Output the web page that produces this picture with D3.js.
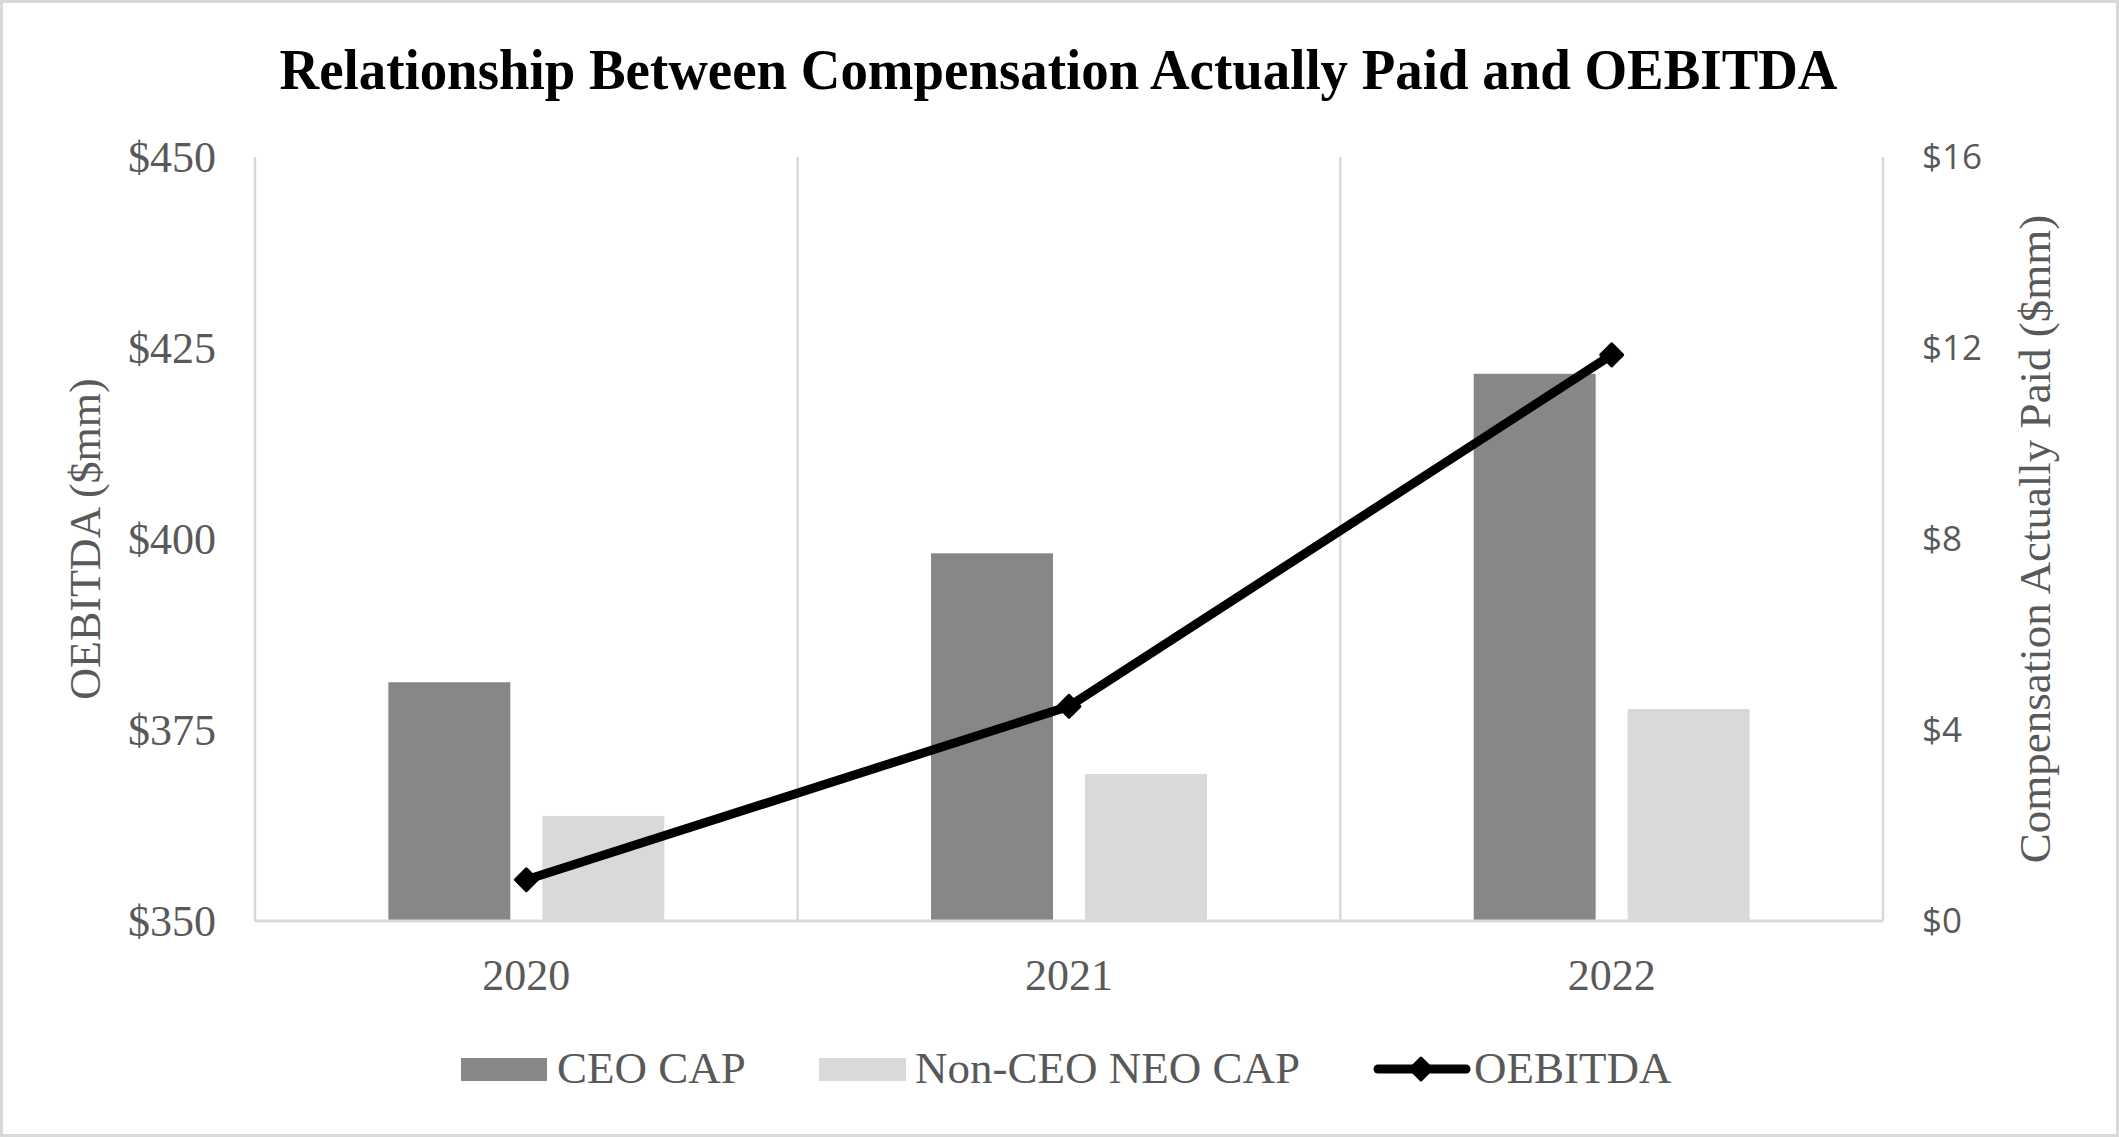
<!DOCTYPE html>
<html>
<head>
<meta charset="utf-8">
<script src="https://cdn.jsdelivr.net/npm/d3@7"></script>
<style>
  body { margin: 0; background: #fff; }
  svg text { font-family: "Liberation Serif", "Times New Roman", serif; }
</style>
</head>
<body>
<div id="chart"></div>
<script>
// chart values
const years = ["2020", "2021", "2022"];
const ceoCap = [5.0, 7.7, 11.46];        // $mm, right axis
const nonCeoCap = [2.2, 3.08, 4.44];     // $mm, right axis
const oebitda = [355.4, 378.1, 424.1];   // $mm, left axis
const leftTicks = [350, 375, 400, 425, 450];
const rightTicks = [0, 4, 8, 12, 16];
const legendLabels = ["CEO CAP", "Non-CEO NEO CAP", "OEBITDA"];

const W = 2119, H = 1137;
const margin = {top: 157, right: 236, bottom: 216, left: 255};
const plotW = W - margin.left - margin.right;
const plotH = H - margin.top - margin.bottom;
const gray = "#595959", grid = "#d9d9d9";

const svg = d3.select("#chart").append("svg")
    .attr("width", W)
    .attr("height", H);

// outer border
svg.append("rect")
    .attr("x", 1.5).attr("y", 1.5)
    .attr("width", W - 3).attr("height", H - 3)
    .attr("fill", "#fff")
    .attr("stroke", grid)
    .attr("stroke-width", 3);

// title (the original is a slightly condensed bold serif)
svg.append("text")
    .attr("x", W / 2 - 1)
    .attr("y", 89)
    .attr("text-anchor", "middle")
    .attr("font-size", 56)
    .attr("font-weight", "bold")
    .attr("fill", "#000")
    .attr("textLength", 1558)
    .attr("lengthAdjust", "spacingAndGlyphs")
    .text("Relationship Between Compensation Actually Paid and OEBITDA");

const g = svg.append("g")
    .attr("transform", `translate(${margin.left},${margin.top})`);

// scales
const x = d3.scaleBand().domain(years).range([0, plotW]).padding(0);
const xSub = d3.scaleBand().domain(["ceo", "non"]).range([0, x.bandwidth()])
    .paddingInner(0.208).paddingOuter(0.866);
const yLeft = d3.scaleLinear().domain([350, 450]).range([plotH, 0]);
const yRight = d3.scaleLinear().domain([0, 16]).range([plotH, 0]);

// vertical gridlines at category boundaries
const bounds = years.map(d => x(d)).concat([plotW]);
g.selectAll(".vgrid")
    .data(bounds)
    .enter().append("line")
    .attr("class", "vgrid")
    .attr("x1", d => d).attr("x2", d => d)
    .attr("y1", 0).attr("y2", plotH)
    .attr("stroke", grid)
    .attr("stroke-width", 2.5);

// bars
const barData = [];
years.forEach((yr, i) => {
    barData.push({year: yr, key: "ceo", value: ceoCap[i]});
    barData.push({year: yr, key: "non", value: nonCeoCap[i]});
});
const barColor = {ceo: "#878787", non: "#d9d9d9"};

g.selectAll(".bar")
    .data(barData)
    .enter().append("rect")
    .attr("class", "bar")
    .attr("x", d => x(d.year) + xSub(d.key))
    .attr("width", xSub.bandwidth())
    .attr("y", d => yRight(d.value))
    .attr("height", d => plotH - yRight(d.value))
    .attr("fill", d => barColor[d.key]);

// baseline
g.append("line")
    .attr("x1", 0).attr("x2", plotW)
    .attr("y1", plotH).attr("y2", plotH)
    .attr("stroke", grid)
    .attr("stroke-width", 3);

// OEBITDA line
const pts = years.map((yr, i) => [x(yr) + x.bandwidth() / 2, yLeft(oebitda[i])]);
g.append("path")
    .attr("d", d3.line()(pts))
    .attr("fill", "none")
    .attr("stroke", "#000")
    .attr("stroke-width", 9);

const diamond = d3.symbol().type(d3.symbolSquare).size(240);
g.selectAll(".marker")
    .data(pts)
    .enter().append("path")
    .attr("class", "marker")
    .attr("d", diamond)
    .attr("transform", d => `translate(${d[0]},${d[1]}) rotate(45)`)
    .attr("fill", "#000")
    .attr("stroke", "#000")
    .attr("stroke-width", 3)
    .attr("stroke-linejoin", "round");

// axes
const axLeft = g.append("g")
    .call(d3.axisLeft(yLeft).tickValues(leftTicks).tickSize(0).tickPadding(39)
        .tickFormat(d => "$" + d));
const axRight = g.append("g")
    .attr("transform", `translate(${plotW},0)`)
    .call(d3.axisRight(yRight).tickValues(rightTicks).tickSize(0).tickPadding(39)
        .tickFormat(d => "$" + d));
const axBottom = g.append("g")
    .attr("transform", `translate(0,${plotH})`)
    .call(d3.axisBottom(x).tickSize(0).tickPadding(38));

[axLeft, axRight, axBottom].forEach(a => a.select(".domain").remove());
axLeft.selectAll("text").attr("font-size", 44).attr("fill", gray)
    .style("font-family", '"Liberation Serif", serif');
axBottom.selectAll("text").attr("font-size", 44).attr("fill", gray)
    .style("font-family", '"Liberation Serif", serif');
axRight.selectAll("text").attr("font-size", 35).attr("fill", gray)
    .style("font-family", '"Open Sans", sans-serif');

// axis titles
svg.append("text")
    .attr("transform", `translate(100,${margin.top + plotH / 2}) rotate(-90)`)
    .attr("text-anchor", "middle")
    .attr("font-size", 44)
    .attr("fill", gray)
    .text("OEBITDA ($mm)");

svg.append("text")
    .attr("transform", `translate(2050,${margin.top + plotH / 2}) rotate(-90)`)
    .attr("text-anchor", "middle")
    .attr("font-size", 45)
    .attr("fill", gray)
    .text("Compensation Actually Paid ($mm)");

// legend
const legend = svg.append("g").attr("transform", "translate(0,1069)");
const legendX = [461, 819, 1374];

legend.append("rect")
    .attr("x", legendX[0]).attr("y", -11)
    .attr("width", 86).attr("height", 23)
    .attr("fill", barColor.ceo);
legend.append("rect")
    .attr("x", legendX[1]).attr("y", -11)
    .attr("width", 87).attr("height", 23)
    .attr("fill", barColor.non);
legend.append("line")
    .attr("x1", legendX[2] + 4).attr("x2", legendX[2] + 92)
    .attr("y1", 0).attr("y2", 0)
    .attr("stroke", "#000")
    .attr("stroke-width", 9)
    .attr("stroke-linecap", "round");
legend.append("path")
    .attr("d", diamond)
    .attr("transform", `translate(${legendX[2] + 47},0) rotate(45)`)
    .attr("fill", "#000")
    .attr("stroke", "#000")
    .attr("stroke-width", 3)
    .attr("stroke-linejoin", "round");

const legendTextX = [557, 915, 1474];
legend.selectAll(".ltext")
    .data(legendLabels)
    .enter().append("text")
    .attr("class", "ltext")
    .attr("x", (d, i) => legendTextX[i])
    .attr("y", 14)
    .attr("font-size", 45)
    .attr("fill", gray)
    .text(d => d);
</script>
</body>
</html>
